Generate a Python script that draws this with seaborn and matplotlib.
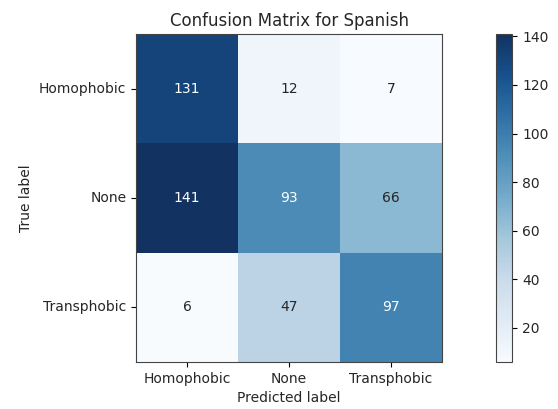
import numpy as np
import pandas as pd
import matplotlib
matplotlib.use("Agg")
import matplotlib.pyplot as plt
from matplotlib.colors import ListedColormap
import seaborn as sns

labels = ["Homophobic", "None", "Transphobic"]
row_homophobic = [131, 12, 7]
row_none = [141, 93, 66]
row_transphobic = [6, 47, 97]

cm = pd.DataFrame([row_homophobic, row_none, row_transphobic], index=labels, columns=labels)

# Blues um pouco dessaturado, como na imagem de referência
cmap = ListedColormap(sns.color_palette("Blues", 256, desat=0.8))

fig = plt.figure(figsize=(5.58, 4.09), dpi=100)
ax = fig.add_axes([0.244, 0.115, 0.548, 0.802])
cax = fig.add_axes([0.889, 0.115, 0.029, 0.802])

sns.heatmap(cm, cmap=cmap, ax=ax, cbar_ax=cax, annot=False,
            vmin=cm.values.min(), vmax=cm.values.max())

# valores nas células (branco acima do limiar, como no sklearn)
thresh = (cm.values.max() + cm.values.min()) / 2
for i in range(cm.shape[0]):
    for j in range(cm.shape[1]):
        v = cm.iloc[i, j]
        ax.text(j + 0.5, i + 0.5, str(v), ha="center", va="center",
                color="white" if v > thresh else "#262626", fontsize=10)

for s in ax.spines.values():
    s.set_visible(True)
    s.set_linewidth(0.8)
    s.set_color("#444444")
ax.set_title("Confusion Matrix for Spanish", fontsize=12, color="#262626")
ax.set_xlabel("Predicted label", color="#262626")
ax.set_ylabel("True label", color="#262626")
ax.set_yticklabels(labels, rotation=0, color="#262626")
ax.set_xticklabels(labels, rotation=0, color="#262626")

cbar = ax.collections[0].colorbar
cbar.outline.set_linewidth(0.8)
cbar.outline.set_edgecolor("#444444")
cbar.set_ticks([20, 40, 60, 80, 100, 120, 140])
cbar.ax.tick_params(labelcolor="#262626")

fig.savefig("out.png", dpi=100)
